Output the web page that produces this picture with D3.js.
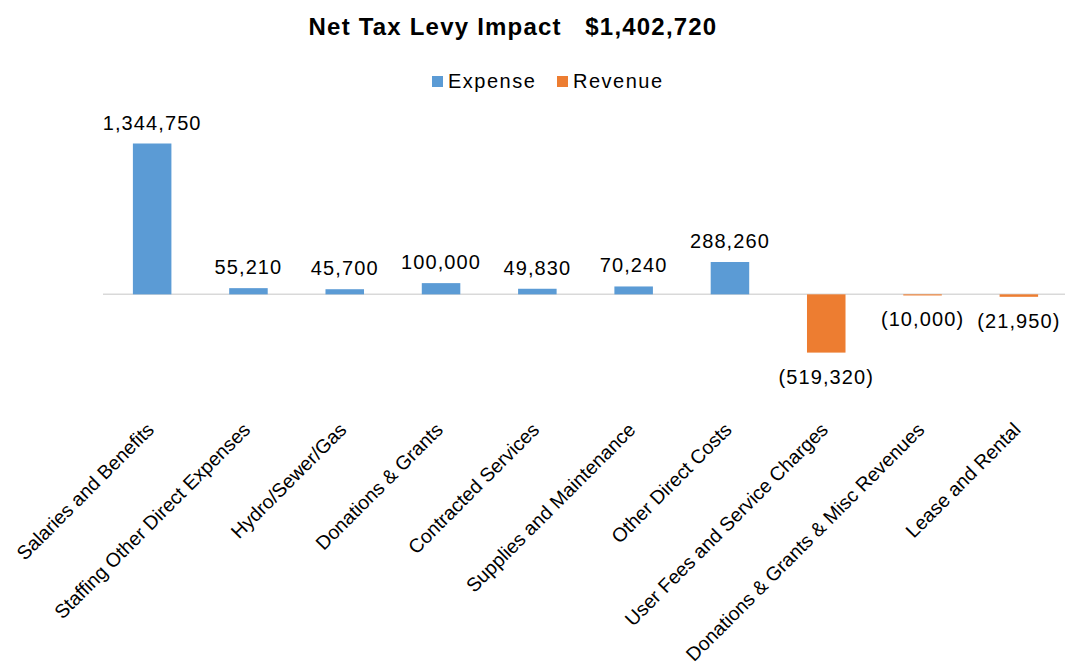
<!DOCTYPE html>
<meta charset="utf-8">
<head>
	<script src="https://d3js.org/d3.v7.min.js"></script>
</head>
<style>
	body {
		margin: 0;
		background: #fff;
	}
	text {
		font-family: "Liberation Sans", Arial, sans-serif;
		fill: #000;
	}
	.title {
		font-weight: 700;
		font-size: 24px;
		letter-spacing: 1.2px;
		white-space: pre;
	}
	.legend text {
		font-size: 20px;
		letter-spacing: 1.5px;
	}
	.value {
		font-size: 20px;
		letter-spacing: 1.1px;
	}
	.cat {
		font-size: 19.5px;
	}
</style>
<body>
<svg id="chart" width="1065" height="663"></svg>
<script>
	// chart data
	var categories = ["Salaries and Benefits", "Staffing Other Direct Expenses", "Hydro/Sewer/Gas",
		"Donations & Grants", "Contracted Services", "Supplies and Maintenance", "Other Direct Costs",
		"User Fees and Service Charges", "Donations & Grants & Misc Revenues", "Lease and Rental"];
	var values = [1344750, 55210, 45700, 100000, 49830, 70240, 288260, -519320, -10000, -21950];
	var seriesNames = ["Expense", "Revenue"];
	var titleText = "Net Tax Levy Impact   $1,402,720";

	var data = categories.map(function(c, i) {
		return { cat: c, value: values[i], type: values[i] >= 0 ? "Expense" : "Revenue" };
	});

	var svg = d3.select("#chart");

	var x = d3.scaleBand()
		.domain(categories)
		.range([104, 1067])
		.paddingInner(0.6)
		.paddingOuter(0.3);

	var y = d3.scaleLinear()
		.domain([-519320, 1344750])
		.range([352.6, 143.5]);

	var color = d3.scaleOrdinal()
		.domain(seriesNames)
		.range(["#5B9BD5", "#ED7D31"]);

	var fmt = d3.format(",");
	function label(v) {
		return v < 0 ? "(" + fmt(-v) + ")" : fmt(v);
	}

	// title
	svg.append("text")
		.attr("class", "title")
		.attr("x", 513)
		.attr("y", 35)
		.attr("text-anchor", "middle")
		.text(titleText);

	// legend
	var legend = svg.append("g").attr("class", "legend");
	var legendX = [432, 557];
	seriesNames.forEach(function(s, i) {
		legend.append("rect")
			.attr("x", legendX[i])
			.attr("y", 76)
			.attr("width", 11)
			.attr("height", 11)
			.attr("fill", color(s));
		legend.append("text")
			.attr("x", legendX[i] + 16)
			.attr("y", 88)
			.text(s);
	});

	// zero line
	svg.append("line")
		.attr("x1", 103)
		.attr("x2", 1065)
		.attr("y1", y(0))
		.attr("y2", y(0))
		.attr("stroke", "#d9d9d9")
		.attr("stroke-width", 1.5);

	// bars
	svg.selectAll(".bar")
		.data(data)
		.enter().append("rect")
		.attr("class", "bar")
		.attr("x", function(d) { return x(d.cat); })
		.attr("width", x.bandwidth())
		.attr("y", function(d) { return y(Math.max(0, d.value)); })
		.attr("height", function(d) { return Math.abs(y(d.value) - y(0)); })
		.attr("fill", function(d) { return color(d.type); });

	// value labels
	svg.selectAll(".value")
		.data(data)
		.enter().append("text")
		.attr("class", "value")
		.attr("x", function(d) { return x(d.cat) + x.bandwidth() / 2; })
		.attr("y", function(d) { return d.value >= 0 ? y(d.value) - 14 : y(d.value) + 31; })
		.attr("text-anchor", "middle")
		.text(function(d) { return label(d.value); });

	// category labels
	svg.selectAll(".cat")
		.data(data)
		.enter().append("text")
		.attr("class", "cat")
		.attr("text-anchor", "end")
		.attr("transform", function(d) {
			var cx = x(d.cat) + x.bandwidth() / 2 + 3;
			return "translate(" + cx + ",431) rotate(-45)";
		})
		.text(function(d) { return d.cat; });
</script>
</body>
